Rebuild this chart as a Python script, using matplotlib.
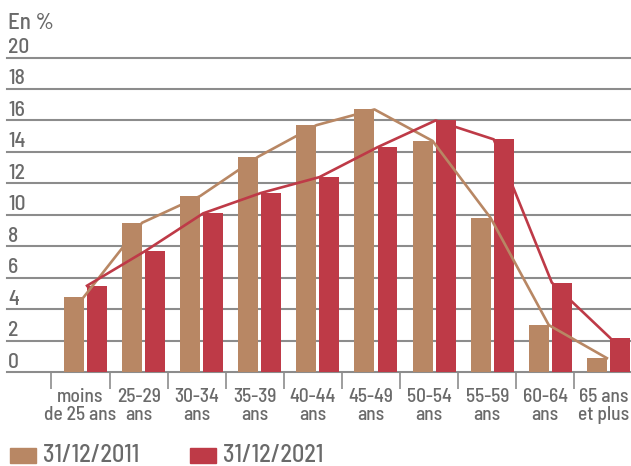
import matplotlib
matplotlib.use("Agg")
import matplotlib.pyplot as plt
import matplotlib.transforms as mtransforms
from matplotlib.patches import Rectangle
import numpy as np

categories = ["moins\nde 25 ans", "25-29\nans", "30-34\nans", "35-39\nans", "40-44\nans",
              "45-49\nans", "50-54\nans", "55-59\nans", "60-64\nans", "65 ans\net plus"]
values_2011 = [4.8, 9.5, 11.2, 13.7, 15.7, 16.7, 14.7, 9.8, 3.0, 0.9]
values_2021 = [5.5, 7.7, 10.1, 11.4, 12.4, 14.3, 16.0, 14.8, 5.7, 2.2]
series_labels = ["31/12/2011", "31/12/2021"]
y_ticks = [0, 2, 4, 6, 8, 10, 12, 14, 16, 18, 20]
y_title = "En %"

c2011 = "#B88764"
c2021 = "#BE3A47"
grey = "#6A6A6A"
grid_c = "#8C8C8C"

plt.rcParams['font.family'] = ['Barlow Semi Condensed', 'DejaVu Sans']
plt.rcParams['font.weight'] = 'medium'

W, H = 631, 466
fig = plt.figure(figsize=(W / 100, H / 100), dpi=100)

px_per_unit = 15.74
y0_px = 372.3
ymax = 20.3
top_px = y0_px - ymax * px_per_unit
ax = fig.add_axes([7 / W, (H - y0_px) / H, (W - 7) / W, (y0_px - top_px) / H])

x = np.arange(len(categories))
shift = 0.086
bw = 0.344
off = 0.198

ax.bar(x + shift - off, values_2011, width=bw, color=c2011, zorder=2)
ax.bar(x + shift + off, values_2021, width=bw, color=c2021, zorder=2)
ax.plot(x + shift - off + bw / 2, values_2011, color=c2011, lw=1.9, zorder=3)
ax.plot(x + shift + off - bw / 2, values_2021, color=c2021, lw=1.9, zorder=3)

ax.set_xlim(-1.265, 9.475)
ax.set_ylim(0, ymax)

for v in y_ticks:
    ax.axhline(v, color=grid_c, lw=1.5, zorder=1, clip_on=False)

for s in ax.spines.values():
    s.set_visible(False)

ax.set_yticks([])
ax.set_xticks(x)
ax.set_xticklabels(categories, fontsize=14, color=grey, linespacing=1.0, fontweight='medium')
ax.tick_params(axis='x', which='major', length=0, pad=11)
ax.set_xticks(x - 0.5, minor=True)
ax.tick_params(axis='x', which='minor', length=12, width=1.2, color=grid_c, direction='out')

trans = mtransforms.blended_transform_factory(ax.transAxes, ax.transData)
for v in y_ticks:
    ax.text(0.002, v + 0.05, str(v), transform=trans, ha='left', va='bottom',
            fontsize=15.5, color=grey, fontweight='medium')

fig.text(8 / W, 1 - 23 / H, y_title, ha='left', va='center', fontsize=16.5, color=grey,
         fontweight='medium')

for (lx, tx, lab, col) in [(10, 43, series_labels[0], c2011), (190, 223, series_labels[1], c2021)]:
    fig.patches.append(Rectangle((lx / W, 1 - 462.7 / H), 26 / W, 14.7 / H,
                                 transform=fig.transFigure, color=col))
    fig.text(tx / W, 1 - 455 / H, lab, ha='left', va='center', fontsize=17.5, color=grey,
             fontweight='medium')

fig.savefig("out.png", dpi=100)
